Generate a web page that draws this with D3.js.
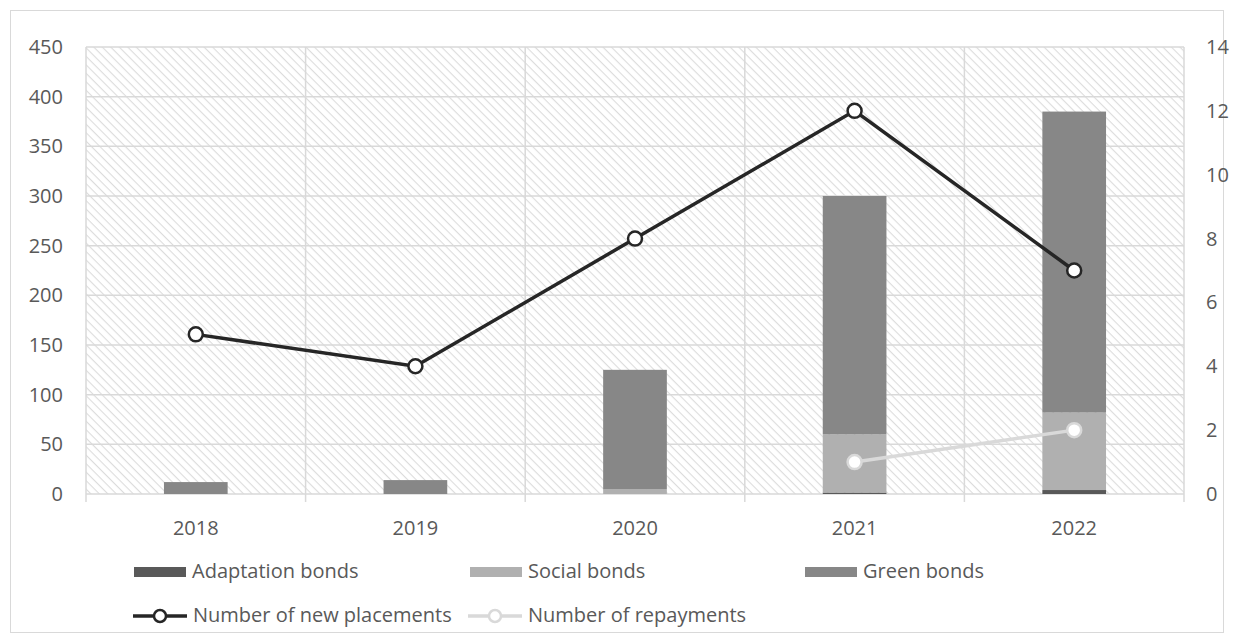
<!DOCTYPE html>
<html>
<head>
<meta charset="utf-8">
<script src="https://cdn.jsdelivr.net/npm/d3@7"></script>
<style>
  body { margin: 0; background: #fff; }
  text { font-family: "Open Sans", "Noto Sans", sans-serif; fill: #595959; }
</style>
</head>
<body>
<div id="chart-area"></div>
<script>
// Data
var years = ["2018", "2019", "2020", "2021", "2022"];
var adaptation = [0, 0, 0, 1.5, 4];
var social = [0, 0, 5, 58.5, 78];
var green = [12, 14, 120, 240, 303];
var newPlacements = [5, 4, 8, 12, 7];
var repayments = [null, null, null, 1, 2];
var leftTicks = [0, 50, 100, 150, 200, 250, 300, 350, 400, 450];
var rightTicks = [0, 2, 4, 6, 8, 10, 12, 14];

var colors = { adaptation: "#595959", social: "#b0b0b0", green: "#878787" };
var fs = 20;

var width = 1234, height = 643;
var margin = { top: 47, right: 50, bottom: 149, left: 86 };
var chartWidth = width - margin.left - margin.right;
var chartHeight = height - margin.top - margin.bottom;

var svg = d3.select("#chart-area").append("svg")
  .attr("width", width).attr("height", height);

// outer border
svg.append("rect")
  .attr("x", 10.5).attr("y", 10.5)
  .attr("width", 1213).attr("height", 622)
  .attr("fill", "none").attr("stroke", "#d9d9d9");

// hatch pattern (lines running top-left to bottom-right)
var pat = svg.append("defs").append("pattern")
  .attr("id", "hatch")
  .attr("patternUnits", "userSpaceOnUse")
  .attr("width", 6).attr("height", 6)
  .attr("patternTransform", "rotate(45)");
pat.append("rect").attr("width", 6).attr("height", 6).attr("fill", "#fff");
pat.append("line")
  .attr("x1", 0).attr("y1", 0).attr("x2", 6).attr("y2", 0)
  .attr("stroke", "#dcdcdc").attr("stroke-width", 2.2);

var g = svg.append("g")
  .attr("transform", "translate(" + margin.left + "," + margin.top + ")");

var x = d3.scaleBand().domain(years).range([0, chartWidth]).paddingInner(0).paddingOuter(0);
var y = d3.scaleLinear().domain([0, 450]).range([chartHeight, 0]);
var y2 = d3.scaleLinear().domain([0, 14]).range([chartHeight, 0]);

g.append("rect")
  .attr("width", chartWidth).attr("height", chartHeight)
  .attr("fill", "url(#hatch)");

// horizontal gridlines
g.selectAll(".hgrid").data(leftTicks).enter().append("line")
  .attr("x1", 0).attr("x2", chartWidth)
  .attr("y1", function(d) { return y(d); })
  .attr("y2", function(d) { return y(d); })
  .attr("stroke", "#d9d9d9").attr("stroke-width", 1.5);

// vertical gridlines at category boundaries
var bounds = years.map(function(d) { return x(d); }).concat([chartWidth]);
g.selectAll(".vgrid").data(bounds).enter().append("line")
  .attr("x1", function(d) { return d; }).attr("x2", function(d) { return d; })
  .attr("y1", 0).attr("y2", chartHeight + 8)
  .attr("stroke", "#d9d9d9").attr("stroke-width", 1.5);

// stacked bars
var rows = years.map(function(yr, i) {
  return { year: yr, adaptation: adaptation[i], social: social[i], green: green[i] };
});
var stack = d3.stack().keys(["adaptation", "social", "green"]);
var series = stack(rows);
var barW = x.bandwidth() * 0.29;

g.selectAll(".series").data(series).enter().append("g")
  .attr("fill", function(d) { return colors[d.key]; })
  .selectAll("rect").data(function(d) { return d; }).enter().append("rect")
  .attr("x", function(d) { return x(d.data.year) + (x.bandwidth() - barW) / 2; })
  .attr("width", barW)
  .attr("y", function(d) { return y(d[1]); })
  .attr("height", function(d) { return y(d[0]) - y(d[1]); });

// axes labels
g.selectAll(".ltick").data(leftTicks).enter().append("text")
  .attr("x", -23).attr("y", function(d) { return y(d); })
  .attr("dy", "0.35em").attr("text-anchor", "end")
  .attr("font-size", fs).text(function(d) { return d; });

g.selectAll(".rtick").data(rightTicks).enter().append("text")
  .attr("x", chartWidth + 22).attr("y", function(d) { return y2(d); })
  .attr("dy", "0.35em").attr("text-anchor", "start")
  .attr("font-size", fs).text(function(d) { return d; });

g.selectAll(".xtick").data(years).enter().append("text")
  .attr("x", function(d) { return x(d) + x.bandwidth() / 2; })
  .attr("y", chartHeight + 34)
  .attr("dy", "0.35em")
  .attr("text-anchor", "middle")
  .attr("font-size", fs).text(function(d) { return d; });

// lines
function drawLine(vals, color) {
  var pts = [];
  vals.forEach(function(v, i) { if (v !== null) pts.push({ year: years[i], v: v }); });
  var line = d3.line()
    .x(function(d) { return x(d.year) + x.bandwidth() / 2; })
    .y(function(d) { return y2(d.v); });
  g.append("path").datum(pts)
    .attr("d", line).attr("fill", "none")
    .attr("stroke", color).attr("stroke-width", 3.5);
  g.selectAll(null).data(pts).enter().append("circle")
    .attr("cx", function(d) { return x(d.year) + x.bandwidth() / 2; })
    .attr("cy", function(d) { return y2(d.v); })
    .attr("r", 7).attr("fill", "#fff")
    .attr("stroke", color).attr("stroke-width", 2.5);
}
drawLine(repayments, "#d9d9d9");
drawLine(newPlacements, "#262626");

// legend
var legendBars = [
  { label: "Adaptation bonds", color: colors.adaptation, x: 134 },
  { label: "Social bonds", color: colors.social, x: 470 },
  { label: "Green bonds", color: colors.green, x: 805 }
];
legendBars.forEach(function(l) {
  svg.append("rect").attr("x", l.x).attr("y", 567)
    .attr("width", 52).attr("height", 10).attr("fill", l.color);
  svg.append("text").attr("x", l.x + 58).attr("y", 571)
    .attr("dy", "0.35em").attr("font-size", fs).text(l.label);
});

var legendLines = [
  { label: "Number of new placements", color: "#262626", x: 133 },
  { label: "Number of repayments", color: "#d9d9d9", x: 468 }
];
legendLines.forEach(function(l) {
  svg.append("line").attr("x1", l.x).attr("x2", l.x + 54)
    .attr("y1", 616).attr("y2", 616)
    .attr("stroke", l.color).attr("stroke-width", 3.5);
  svg.append("circle").attr("cx", l.x + 27).attr("cy", 616).attr("r", 6)
    .attr("fill", "#fff").attr("stroke", l.color).attr("stroke-width", 2.5);
  svg.append("text").attr("x", l.x + 60).attr("y", 615)
    .attr("dy", "0.35em").attr("font-size", fs).text(l.label);
});
</script>
</body>
</html>
